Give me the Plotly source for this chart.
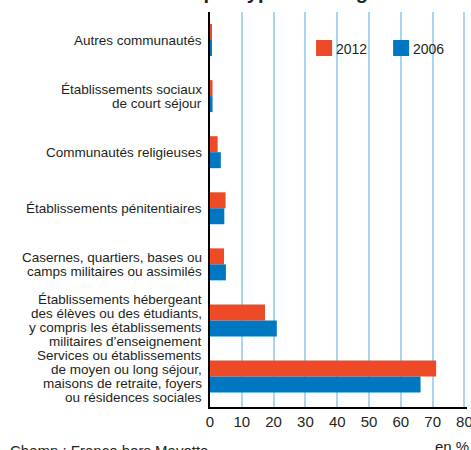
import plotly.graph_objects as go

# ---- data ----
category_lines = [
    ["Autres communautés"],
    ["Établissements sociaux", "de court séjour"],
    ["Communautés religieuses"],
    ["Établissements pénitentiaires"],
    ["Casernes, quartiers, bases ou", "camps militaires ou assimilés"],
    ["Établissements hébergeant", "des élèves ou des étudiants,", "y compris les établissements", "militaires d’enseignement"],
    ["Services ou établissements", "de moyen ou long séjour,", "maisons de retraite, foyers", "ou résidences sociales"],
]
categories = ["<br>".join(c) for c in category_lines]
series_names = ["2012", "2006"]
values_2012 = [0.5, 0.8, 2.4, 4.9, 4.4, 17.3, 71.1]
values_2006 = [0.4, 0.8, 3.4, 4.5, 5.0, 21.0, 66.2]
x_ticks = [0, 10, 20, 30, 40, 50, 60, 70, 80]
title_text = "Communautés par type de catégorie"
source_text = "Champ : France hors Mayotte"
unit_text = "en %"

# ---- style ----
W, H = 471, 450
XMAX = 80.8
L, T, B = 210, 12, 43
R = W - L - XMAX * (254.3 / 80)
PW, PH = W - L - R, H - T - B
FONT = "Liberation Sans, Arial, sans-serif"
TXT = "#231f20"
RED = "#ee4a27"
BLUE = "#0078c1"
GRID = "#aad5f1"
colors = [RED, BLUE]

def px_x(px):
    return (px - L) / PW

def px_y(py):
    return (H - B - py) / PH

fig = go.Figure()
for name, vals, col in zip(series_names, [values_2012, values_2006], colors):
    fig.add_trace(go.Bar(y=categories, x=vals, name=name, orientation="h",
                         marker=dict(color=col, line=dict(width=0)), showlegend=False))

annotations = []
# category labels, one line per annotation for tight line spacing
LS = 14
for cat, lines in zip(categories, category_lines):
    n = len(lines)
    for i, line in enumerate(lines):
        annotations.append(dict(
            x=px_x(204), xref="paper", y=cat, yref="y",
            text=line, showarrow=False, xanchor="right", yanchor="middle",
            yshift=-(i - (n - 1) / 2) * LS,
            font=dict(family=FONT, size=13.5, color=TXT)))

# legend (manual)
shapes = []
leg_pos = [(316, 334), (393, 411)]
for (sx, tx), name, col in zip(leg_pos, series_names, colors):
    shapes.append(dict(type="rect", xref="paper", yref="paper",
                       x0=px_x(sx), x1=px_x(sx + 16), y0=px_y(56), y1=px_y(40),
                       fillcolor=col, line=dict(width=0)))
    annotations.append(dict(x=px_x(tx), xref="paper", y=px_y(49), yref="paper",
                            text=name, showarrow=False, xanchor="left", yanchor="middle",
                            font=dict(family=FONT, size=14, color=TXT)))

# title (cut off at top), unit, source (cut off at bottom)
annotations.append(dict(x=px_x(57), xref="paper", y=px_y(5), yref="paper",
                        text="<b>" + title_text + "</b>", showarrow=False,
                        xanchor="left", yanchor="bottom",
                        font=dict(family=FONT, size=20, color=TXT)))
annotations.append(dict(x=px_x(471), xref="paper", y=px_y(436), yref="paper",
                        text=unit_text, showarrow=False, xanchor="right", yanchor="top",
                        font=dict(family=FONT, size=15, color=TXT)))
annotations.append(dict(x=px_x(8), xref="paper", y=px_y(440), yref="paper",
                        text=source_text, showarrow=False, xanchor="left", yanchor="top",
                        font=dict(family=FONT, size=15, color=TXT)))

fig.update_layout(
    width=W, height=H,
    margin=dict(l=L, r=R, t=T, b=B, pad=0, autoexpand=False),
    paper_bgcolor="white", plot_bgcolor="white",
    barmode="group", bargap=0.43, bargroupgap=0,
    annotations=annotations, shapes=shapes,
    xaxis=dict(range=[0, XMAX], tickvals=x_ticks, ticktext=[str(v) for v in x_ticks],
               showgrid=True, gridcolor=GRID, gridwidth=1.5,
               showline=True, linecolor="black", linewidth=2,
               ticks="", zeroline=False, ticklabeloverflow="allow", automargin=False,
               tickfont=dict(family=FONT, size=15, color=TXT)),
    yaxis=dict(type="category", categoryorder="array", categoryarray=categories,
               autorange="reversed", showticklabels=False, showgrid=False, automargin=False,
               showline=True, linecolor="black", linewidth=2, zeroline=False, ticks=""),
)

fig.write_html("out.html", config={"displayModeBar": False},
               post_script="document.body.style.margin='0';document.body.style.overflow='hidden';")
